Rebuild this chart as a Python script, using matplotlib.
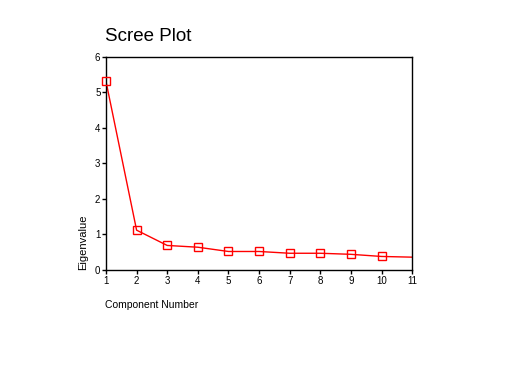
import matplotlib
matplotlib.use('Agg')
import matplotlib.pyplot as plt

plt.rcParams['font.family'] = ['Liberation Sans', 'DejaVu Sans']

# Scree plot data
components = [1, 2, 3, 4, 5, 6, 7, 8, 9, 10, 11]
eigenvalues = [5.31, 1.12, 0.69, 0.64, 0.52, 0.52, 0.47, 0.47, 0.44, 0.38, 0.36]

fig = plt.figure(figsize=(5.12, 3.84), dpi=100)
ax = fig.add_axes([0.207, 0.297, 0.598, 0.555])

# last component is drawn without a marker
ax.plot(components, eigenvalues, color='red', lw=1)
ax.plot(components[:-1], eigenvalues[:-1], ls='none', marker='s', ms=5.5,
        mfc='none', mec='red', mew=1, clip_on=False, zorder=3)

ax.set_xlim(1, 11)
ax.set_ylim(0, 6)
ax.set_xticks(range(1, 12))
ax.set_yticks(range(0, 7))
ax.tick_params(labelsize=7, length=3, width=1, pad=1)
for s in ax.spines.values():
    s.set_linewidth(1)

fig.text(0.162, 0.297, 'Eigenvalue', fontsize=8, rotation=90, ha='center', va='bottom')
fig.text(0.205, 0.205, 'Component Number', fontsize=7.5, ha='left', va='center')
fig.text(0.205, 0.905, 'Scree Plot', fontsize=13.5, ha='left', va='center')

fig.savefig('out.png', dpi=100)
